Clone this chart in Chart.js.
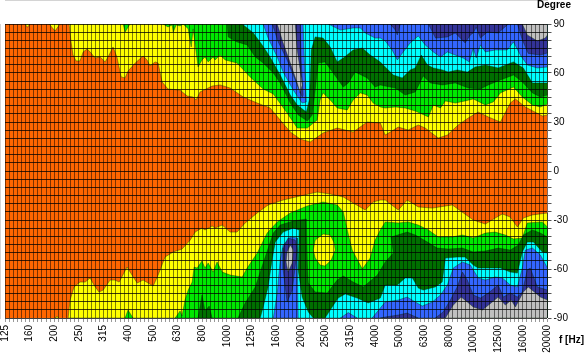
<!DOCTYPE html>
<html>
<head>
<meta charset="utf-8">
<title>Directivity</title>
<script src="https://cdn.jsdelivr.net/npm/chart.js@4"></script>
<style>
  html, body { margin: 0; padding: 0; background: #fff; }
  #box { position: relative; width: 585px; height: 355px; }
</style>
</head>
<body>
<div id="box"><canvas id="mapa"></canvas></div>
<script>
// x = third-octave band number (0 = 125 Hz, 22 = 20000 Hz), y = angle in degrees
const freqLabels = ['125','160','200','250','315','400','500','630','800','1000','1250','1600','2000','2500','3150','4000','5000','6300','8000','10000','12500','16000','20000'];
const angleLabels = [-90,-60,-30,0,30,60,90];

const orangeBase = [[0,90],[22,90],[22,-90],[0,-90]];

// upper half: contour edges, each region is closed against +90
const yellowBumpA = [[0.81,90],[0.91,88],[1.01,90]];
const yellowBumpB = [[1.79,90],[2.03,85.7],[2.23,90]];
const yellowTop = [[2.60,90],[2.68,79],[2.76,71],[2.88,67.4],[3.04,67.4],[3.17,72.9],[3.33,74.7],[3.49,72.3],[3.65,69.2],[3.86,69.8],[4.06,66.8],[4.22,71],[4.38,75.9],[4.54,69.8],[4.71,57.6],[4.87,57],[4.99,61.2],[5.28,66.1],[5.60,70.4],[5.76,68],[5.88,64.3],[6.09,66.8],[6.21,66.1],[6.37,54.5],[6.61,50.2],[7.10,49.5],[7.39,45.9],[7.63,45.3],[7.75,43.5],[7.91,48.4],[8.40,52],[8.72,52.7],[9.13,50.8],[9.66,45.3],[10.23,41.6],[10.75,38.6],[11.16,31.2],[11.57,23.9],[11.97,19.6],[12.38,17.8],[12.90,23.3],[13.47,26.3],[14.12,23.9],[14.69,30],[15.22,29.4],[15.42,22],[15.95,26.9],[16.35,25.1],[16.76,28.2],[17.04,26.3],[17.57,20.2],[17.94,22],[18.38,28.2],[18.79,32.5],[19.19,36.1],[19.60,33.1],[20.09,30],[20.49,41.6],[20.70,44.1],[21.10,39.2],[21.79,33.7],[22,34.3]];

const greenSpike = [[4.79,90],[4.87,85.1],[5.07,90]];
const greenTop = [[6.41,90],[6.61,88.2],[6.78,89.4],[6.82,85],[6.94,89.4],[7.10,88.8],[7.22,90],[7.35,88.2],[7.43,87],[7.55,75.9],[7.63,87],[7.83,63.7],[7.99,68],[8.11,69.8],[8.24,66.8],[8.44,69.8],[8.52,68],[8.72,71],[8.93,68],[9.41,66.1],[9.94,57.6],[10.47,50.2],[10.88,47.2],[11.44,35.5],[11.85,26.3],[12.26,26.3],[12.66,31.2],[12.78,43.5],[12.90,47.8],[13.19,43.5],[13.47,38.6],[13.88,37.4],[14.12,43.5],[14.41,47.8],[14.69,46.5],[14.93,41.6],[15.22,39.2],[15.42,38.6],[15.83,39.2],[16.23,38.6],[16.64,36.7],[17.17,33.1],[17.37,40.4],[17.66,38.6],[17.86,42.9],[18.26,41.6],[18.66,42.9],[18.99,44.1],[19.48,40.4],[19.80,42.3],[20.09,47.8],[20.62,51.4],[20.98,45.3],[21.39,40.4],[21.71,39.2],[22,41]];

const darkTop = [[9.01,90],[9.05,82.1],[9.41,79],[9.82,77.2],[10.15,69.8],[10.47,66.1],[10.88,60],[11.16,53.9],[11.57,41.6],[11.89,34.3],[12.26,30.6],[12.46,34.3],[12.58,49.6],[12.70,66.1],[12.98,66.8],[13.31,60],[13.72,51.4],[13.92,53.9],[14.20,60.6],[14.69,57],[15.01,51.4],[15.22,52.7],[15.42,52],[15.83,50.8],[16.23,46.5],[16.64,48.4],[16.96,58.2],[17.25,53.9],[17.74,52.7],[18.26,53.9],[18.79,50.8],[19.28,50.2],[19.60,52.7],[20.09,55.7],[20.62,58.8],[20.98,54.5],[21.39,47.8],[21.71,45.3],[22,46.5]];

const cyanTop = [[9.62,90],[9.82,87.6],[10.07,84.5],[10.43,77.2],[10.75,69.8],[11.16,58.8],[11.57,46.5],[11.85,40.4],[12.22,36.1],[12.34,43.5],[12.38,55.7],[12.42,74.1],[12.58,82.1],[12.90,81.4],[13.19,75.9],[13.47,66.8],[13.72,69.2],[14.12,74.1],[14.49,75.3],[14.81,71],[15.22,66.8],[15.42,63.7],[15.75,58.8],[16.11,57],[16.43,61.9],[16.64,63.1],[16.88,71],[17.13,64.9],[17.37,63.1],[17.74,61.9],[17.98,60.6],[18.34,61.9],[18.75,60.6],[19.07,63.7],[19.48,64.9],[20.0,63.1],[20.62,66.8],[21.02,63.1],[21.39,53.9],[21.71,53.9],[22,53.9]];

const blueLobeTop = [[10.47,90],[10.67,81.4],[11.04,69.8],[11.28,60.6],[11.69,49.6],[12.05,41.6],[12.22,42.3],[12.18,55.7],[12.14,68],[12.09,90]];
const blueTop = [[13.11,90],[13.60,86.3],[14.12,87.6],[14.41,87.6],[14.61,84.5],[15.01,81.4],[15.22,81.4],[15.42,79.6],[15.70,74.1],[15.91,68],[16.15,72.9],[16.43,78.4],[16.76,82.7],[17.04,77.2],[17.37,72.9],[17.66,69.8],[17.94,72.9],[18.26,71],[18.58,69.2],[18.83,66.8],[18.99,75.3],[19.11,69.2],[19.28,77.2],[19.48,72.9],[19.88,74.1],[20.37,74.1],[20.62,79],[20.90,71],[21.18,64.9],[21.59,63.1],[22,63.7]];

const navyLobeTop = [[10.84,90],[11.08,79],[11.44,68],[11.77,55.7],[12.05,45.3],[12.09,46.5],[12.01,68],[11.97,90]];
const navyBumpTop = [[15.62,90],[15.83,86.3],[15.91,83.3],[16.03,90]];
const navyTop = [[17.17,90],[17.46,81.4],[17.94,82.1],[18.26,84.5],[18.66,78.4],[18.87,83.3],[18.99,84.5],[19.11,88],[19.28,81.4],[19.56,85.1],[20.0,84.5],[20.41,90]];
const navyCorner = [[20.78,90],[20.98,80.2],[21.22,72],[21.71,71],[22,72.3]];

const greyLobeTop = [[11.04,90],[11.28,78.4],[11.57,66.1],[11.85,53.9],[11.97,47.8],[12.05,52.7],[11.97,61.9],[11.85,74.1],[11.77,90]];
const greyCorner = [[20.98,90],[21.18,83.3],[21.59,79.6],[21.91,81.4],[22,83.3]];

// lower half: same thing, closed against -90
const yellowBottomBump = [[2.03,-90],[2.11,-89],[2.19,-90]];
const yellowBottom = [[2.56,-90],[2.64,-79],[2.80,-71],[3.04,-68],[3.25,-68],[3.45,-65.5],[3.61,-69.8],[3.81,-74.1],[3.98,-72.9],[4.26,-66.8],[4.46,-66.8],[4.63,-68],[4.95,-58.8],[5.15,-63.7],[5.36,-68.6],[5.60,-66.8],[6.01,-70.4],[6.21,-63.7],[6.49,-52.7],[6.82,-49.6],[7.18,-47.8],[7.51,-42.3],[7.71,-37.4],[7.99,-34.9],[8.11,-36.1],[8.40,-33.7],[8.52,-34.9],[8.81,-33.1],[9.13,-37.4],[9.41,-37.4],[9.74,-31.8],[10.23,-25.7],[10.67,-20.8],[11.28,-17.8],[11.97,-15.3],[12.66,-12.9],[13.19,-14.1],[13.72,-15.9],[14.12,-19.6],[14.61,-23.9],[14.93,-19],[15.22,-17.8],[15.42,-17.8],[15.95,-23.9],[16.31,-17.8],[16.76,-22],[17.33,-22.7],[18.14,-20.8],[18.59,-25.7],[18.99,-30],[19.48,-32.5],[19.88,-28.8],[20.17,-26.3],[20.49,-28.2],[20.78,-34.3],[21.02,-28.8],[21.39,-26.9],[22,-25.7]];

const greenBottomSpike = [[4.87,-90],[4.99,-85.1],[5.19,-90]];
const greenBottom = [[6.90,-90],[7.10,-85.7],[7.18,-88.8],[7.30,-79],[7.43,-72.9],[7.59,-68],[7.67,-58.8],[7.79,-59.4],[7.99,-55.1],[8.11,-59.4],[8.24,-56.3],[8.44,-61.9],[8.60,-55.7],[8.81,-61.9],[9.13,-63.7],[9.62,-64.9],[9.82,-59.4],[10.23,-50.2],[10.63,-38],[11.04,-31.2],[11.57,-25.7],[12.26,-21.4],[12.90,-19],[13.47,-20.8],[13.72,-25.1],[13.88,-36.1],[14.08,-48.4],[14.49,-60],[14.81,-53.3],[15.01,-42.3],[15.22,-36.1],[15.42,-31.2],[15.95,-31.8],[16.35,-31.2],[16.76,-33.1],[17.17,-36.1],[17.57,-40.4],[18.14,-40.4],[18.55,-39.2],[18.99,-41],[19.48,-38],[19.88,-37.4],[20.29,-39.2],[20.62,-41.6],[20.98,-41],[21.18,-31.8],[21.79,-31.2],[22,-34.3]];
const yellowIsland = [[12.90,-38.6],[13.19,-39.2],[13.35,-44.1],[13.39,-48.4],[13.23,-54.5],[12.98,-58.2],[12.78,-57.6],[12.58,-53.3],[12.50,-48.4],[12.58,-42.3]];

const darkSpikes = [[7.83,-90],[7.99,-75.9],[8.11,-85.7],[8.28,-82.7],[8.40,-90]];
const darkBottom = [[9.45,-90],[9.74,-80.8],[10.15,-71],[10.47,-56.3],[10.88,-38],[11.16,-33.1],[11.69,-30.6],[12.22,-29.4],[12.26,-56.3],[12.30,-68.6],[12.58,-74.1],[13.07,-74.7],[13.47,-66.8],[13.72,-64.3],[14.12,-68],[14.53,-71],[15.10,-63.7],[15.42,-55.7],[15.75,-50.2],[15.66,-40.4],[16.31,-37.4],[16.64,-39.2],[17.13,-43.5],[17.53,-47.2],[17.98,-47.8],[18.55,-47.2],[18.99,-49.6],[19.48,-49],[20.0,-47.2],[20.49,-48.4],[20.82,-45.3],[21.02,-39.2],[21.39,-36.1],[21.71,-38],[22,-40.4]];

const cyanLobeBottom = [[10.35,-90],[10.47,-83.3],[10.67,-71],[10.83,-54.5],[10.96,-43.5],[11.28,-37.4],[11.69,-34.9],[11.93,-36.1],[11.89,-60.6],[12.05,-77.2],[12.30,-86.3],[12.50,-90]];
const cyanBottom = [[12.98,-90],[13.19,-85.1],[13.51,-77.8],[13.80,-75.3],[14.28,-77.8],[14.73,-80.8],[15.22,-77.8],[15.42,-69.8],[15.91,-69.8],[16.23,-65.5],[16.52,-65.5],[16.76,-71.7],[16.96,-72.9],[17.45,-71],[17.73,-68],[17.86,-53.3],[18.34,-52.7],[18.66,-52.7],[18.99,-57.6],[19.19,-59.4],[19.48,-59.4],[20.09,-59.4],[20.49,-61.9],[20.78,-62.5],[20.98,-49.6],[21.18,-43.5],[21.43,-43.5],[21.79,-49.6],[22,-50.2]];

const blueLobeBottom = [[10.88,-90],[11.04,-74.7],[11.16,-54.5],[11.28,-45.3],[11.57,-40.4],[11.85,-41],[11.85,-54.5],[11.89,-90]];
const blueBlob = [[13.60,-90],[13.92,-86.7],[14.28,-90]];
const blueBottom = [[14.89,-90],[15.22,-83.9],[15.42,-80.2],[15.95,-79],[16.31,-77.2],[16.64,-80.2],[16.92,-82.7],[17.33,-80.2],[17.66,-75.9],[17.94,-69.8],[18.18,-59.4],[18.55,-55.7],[18.87,-57.6],[19.19,-65.5],[19.48,-66.8],[19.88,-64.9],[20.17,-65.5],[20.49,-69.8],[20.78,-71],[20.98,-59.4],[21.10,-48.4],[21.39,-47.2],[21.71,-51.4],[22,-59.4]];

const navyLobeBottom = [[11.28,-60.6],[11.44,-80.2],[11.65,-72.9],[11.85,-48.4],[11.77,-42.3],[11.48,-41],[11.28,-47.2]];
const navyLeftBottom = [[15.22,-90],[15.42,-89.4],[15.95,-88.2],[16.31,-87],[16.76,-90]];
const navyBottom = [[17.45,-90],[17.77,-86.3],[18.06,-79],[18.34,-71],[18.55,-61.9],[18.75,-66.8],[18.99,-75.9],[19.28,-77.8],[19.60,-74.7],[20.0,-69.8],[20.21,-77.2],[20.49,-74.7],[20.78,-77.2],[20.98,-74.1],[21.18,-60.6],[21.30,-59.4],[21.59,-71],[22,-72.9]];

const greyLobeBottom = [[11.57,-45.3],[11.69,-48.4],[11.65,-56.3],[11.48,-61.9],[11.40,-55.7],[11.44,-49.6]];
const greyBottom = [[17.86,-90],[18.18,-82.1],[18.50,-77.2],[18.75,-80.2],[18.99,-83.3],[19.36,-85.1],[19.76,-80.2],[20.0,-77.2],[20.29,-82.1],[20.53,-79],[20.70,-83.3],[21.02,-74.1],[21.22,-71],[21.71,-77.2],[22,-79]];

const cores = { orange: '#ff6600', yellow: '#ffff00', green: '#00e800', dark: '#007000', cyan: '#00ffff', blue: '#3366ff', navy: '#333399', grey: '#c0c0c0' };

// fecha a borda contra o topo ou a base do grafico
function fechar(borda, angulo) {
    const pts = borda.map(p => ({ x: p[0], y: p[1] }));
    if (angulo !== undefined) {
        pts.push({ x: borda[borda.length - 1][0], y: angulo });
        pts.push({ x: borda[0][0], y: angulo });
    }
    pts.push({ x: borda[0][0], y: borda[0][1] });
    return pts;
}

function camada(borda, cor, angulo) {
    return {
        data: fechar(borda, angulo),
        showLine: true,
        fill: 'shape',
        backgroundColor: cor,
        borderColor: 'rgba(0,40,0,0.55)',
        borderWidth: 0.7,
        pointRadius: 0,
        tension: 0
    };
}

const camadas = [
    Object.assign(camada(orangeBase, cores.orange), { borderWidth: 0 }),
    camada(yellowBumpA, cores.yellow, 90), camada(yellowBumpB, cores.yellow, 90), camada(yellowTop, cores.yellow, 90),
    camada(yellowBottomBump, cores.yellow, -90), camada(yellowBottom, cores.yellow, -90),
    camada(greenSpike, cores.green, 90), camada(greenTop, cores.green, 90),
    camada(greenBottomSpike, cores.green, -90), camada(greenBottom, cores.green, -90),
    camada(yellowIsland, cores.yellow),
    camada(darkTop, cores.dark, 90),
    camada(darkSpikes, cores.dark, -90), camada(darkBottom, cores.dark, -90),
    camada(cyanTop, cores.cyan, 90),
    camada(cyanLobeBottom, cores.cyan, -90), camada(cyanBottom, cores.cyan, -90),
    camada(blueLobeTop, cores.blue, 90), camada(blueTop, cores.blue, 90),
    camada(blueLobeBottom, cores.blue, -90), camada(blueBlob, cores.blue, -90), camada(blueBottom, cores.blue, -90),
    camada(navyLobeTop, cores.navy, 90), camada(navyBumpTop, cores.navy, 90), camada(navyTop, cores.navy, 90), camada(navyCorner, cores.navy, 90),
    camada(navyLobeBottom, cores.navy), camada(navyLeftBottom, cores.navy, -90), camada(navyBottom, cores.navy, -90),
    camada(greyLobeTop, cores.grey, 90), camada(greyCorner, cores.grey, 90),
    camada(greyLobeBottom, cores.grey), camada(greyBottom, cores.grey, -90)
];

// Chart.js pinta o ultimo dataset primeiro, entao a ordem precisa ser invertida
const datasets = camadas.slice().reverse();

// titulos dos eixos
const titulos = {
    id: 'titulos',
    afterDraw(chart) {
        const ctx = chart.ctx;
        ctx.save();
        ctx.fillStyle = '#000';
        ctx.font = 'bold 10px "Liberation Sans"';
        ctx.textBaseline = 'middle';
        ctx.textAlign = 'center';
        ctx.fillText('Degree', 554, 5);
        ctx.fillText('f [Hz]', 571.5, 340);
        ctx.restore();
    }
};

new Chart(document.getElementById('mapa').getContext('2d'), {
    type: 'scatter',
    data: { datasets: datasets },
    plugins: [titulos],
    options: {
        responsive: true,
        maintainAspectRatio: false,
        animation: false,
        events: [],
        layout: { padding: { left: 5, top: 24, right: 0, bottom: 0 } },
        plugins: { legend: { display: false }, tooltip: { enabled: false } },
        scales: {
            x: {
                type: 'linear',
                min: 0,
                max: 22,
                afterFit: s => { s.height = 37; s.paddingLeft = 0; s.paddingRight = 0; },
                grid: { color: 'rgba(0,0,0,0.5)', tickColor: '#999', tickLength: 4, z: 1 },
                border: { color: '#aaa' },
                ticks: {
                    stepSize: 1 / 6,
                    autoSkip: false,
                    minRotation: 90,
                    maxRotation: 90,
                    padding: 3,
                    color: '#000',
                    font: { family: '"Liberation Sans"', size: 10 },
                    callback: v => Math.abs(v - Math.round(v)) < 1e-3 ? freqLabels[Math.round(v)] : ''
                }
            },
            y: {
                type: 'linear',
                position: 'right',
                min: -90,
                max: 90,
                afterFit: s => { s.width = 37.5; },
                grid: { color: 'rgba(0,0,0,0.75)', tickColor: '#555', tickLength: 4, z: 1 },
                border: { color: '#aaa' },
                ticks: {
                    stepSize: 5,
                    autoSkip: false,
                    padding: 2,
                    color: '#000',
                    font: { family: '"Liberation Sans"', size: 10 },
                    callback: v => angleLabels.includes(v) ? String(v) : ''
                }
            }
        }
    }
});
</script>
</body>
</html>
